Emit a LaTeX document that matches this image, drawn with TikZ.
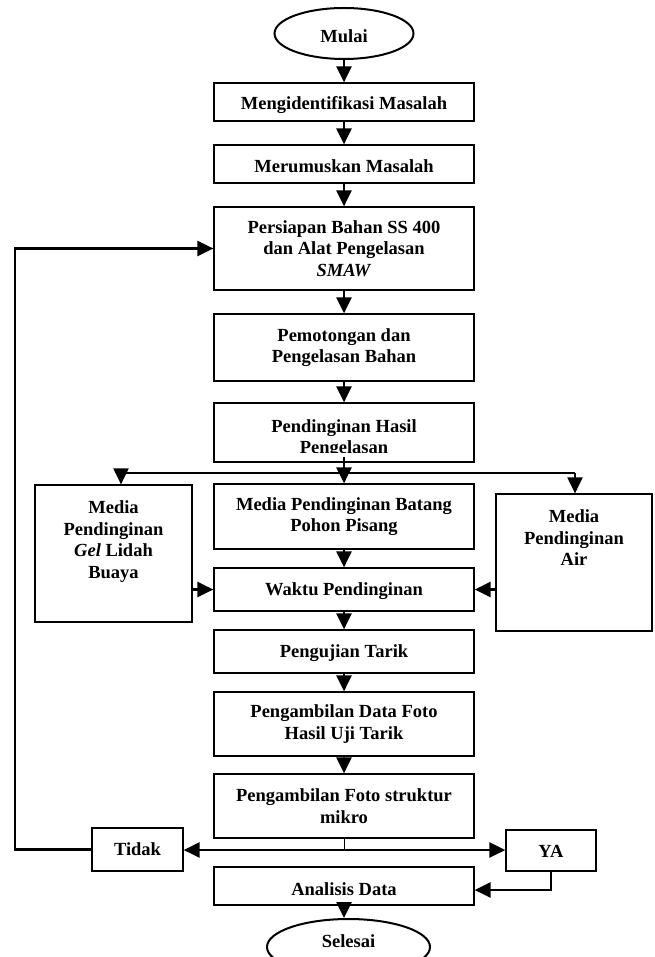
\documentclass[tikz,border=0pt]{standalone}
\usepackage{fontspec}
\setmainfont{Liberation Serif}
\usetikzlibrary{arrows.meta,shapes.geometric}
\begin{document}
\begin{tikzpicture}[x=1pt,y=-1pt,
  every node/.style={font=\fontsize{18.5pt}{21.5pt}\selectfont\bfseries, inner sep=0pt},
  box/.style={draw, line width=1.2pt, align=center, minimum width=260pt},
  term/.style={draw, ellipse, line width=2pt},
  conn/.style={line width=2.6pt},
  arr/.style={conn, -{Triangle[length=16pt,width=15pt]}},
  txt/.style={align=center, anchor=north},
]
\useasboundingbox (0,0) rectangle (654,957);
\clip (0,0) rectangle (654,957);

% central column
\node[term, minimum width=139pt, minimum height=51pt, text height=19pt, text depth=1pt] (mulai) at (344,33.5) {Mulai};
\node[box, minimum height=38pt, text height=18pt, text depth=2pt] (mengid) at (344,102) {Mengidentifikasi Masalah};
\node[box, minimum height=38pt, text height=19pt, text depth=1pt] (merum) at (344,164) {Merumuskan Masalah};
\node[box, minimum height=83pt] (persiapan) at (344,248.5) {Persiapan Bahan SS 400\\dan Alat Pengelasan\\\textit{SMAW}};
\node[box, minimum height=67pt] (pemot) at (344,347.5) {Pemotongan dan\\Pengelasan Bahan};
\node[box, minimum height=59pt] (pend) at (344,432.5) {};
\begin{scope}
  \clip (214,404) rectangle (474,452.5);
  \node[txt] (pendT) at (344,419.4) {Pendinginan Hasil\\Pengelasan};
\end{scope}
\node[box, minimum height=65pt] (batang) at (344,516.5) {Media Pendinginan Batang\\Pohon Pisang};
\node[box, minimum height=43pt, text height=15.5pt, text depth=4.5pt] (waktu) at (344,589.5) {Waktu Pendinginan};
\node[box, minimum height=43pt, text height=15.5pt, text depth=4.5pt] (uji) at (344,651.5) {Pengujian Tarik};
\node[box, minimum height=64pt] (datafoto) at (344,724) {Pengambilan Data Foto\\Hasil Uji Tarik};
\node[box, minimum height=64pt] (foto) at (344,806) {Pengambilan Foto struktur\\mikro};
\node[box, minimum height=38pt, text height=19pt, text depth=1pt] (anal) at (344,886) {Analisis Data};
\node[term, minimum width=163pt, minimum height=56pt, text height=10pt, text depth=10pt] (selesai) at (348.5,947) {Selesai};

% side boxes
\node[box, minimum width=157pt, minimum height=137pt] (gel) at (113.5,553.5) {};
\node[txt] (gelT) at (113.5,500.5) {Media\\Pendinginan\\\textit{Gel} Lidah\\Buaya};
\node[box, minimum width=156pt, minimum height=137pt] (air) at (574,562.5) {};
\node[txt] (airT) at (574,509.5) {Media\\Pendinginan\\Air};
\node[box, minimum width=91pt, minimum height=43pt, text height=15.5pt, text depth=4.5pt] (tidak) at (137.5,849.5) {Tidak};
\node[box, minimum width=90pt, minimum height=41pt, text height=16.5pt, text depth=3.5pt] (ya) at (551,850.5) {YA};

% connectors
\draw[arr] (mulai.south) -- (mengid.north);
\draw[arr] (mengid.south) -- (merum.north);
\draw[arr] (merum.south) -- (persiapan.north);
\draw[arr] (persiapan.south) -- (pemot.north);
\draw[arr] (pemot.south) -- (pend.north);
\draw[arr] ([yshift=6pt]pend.south) -- (batang.north);
\coordinate (brL) at (121,473);
\coordinate (brR) at (575,473);
\draw[line width=2pt] (brL) -- (brR);
\draw[arr, line width=2pt] (brL) -- (brL |- gel.north);
\draw[arr, line width=2pt] (brR) -- (brR |- air.north);
\draw[arr] (batang.south) -- (waktu.north);
\draw[arr] (gel.east |- waktu.west) -- (waktu.west);
\draw[arr] (air.west |- waktu.east) -- (waktu.east);
\draw[arr] (waktu.south) -- (uji.north);
\draw[arr] (uji.south) -- (datafoto.north);
\draw[arr] (datafoto.south) -- (foto.north);
\coordinate (split) at (344,850);
\draw[line width=0.8pt] (foto.south) -- (split);
\draw[arr] (split) -- (tidak.east |- split);
\draw[arr] (split) -- (ya.west |- split);
\coordinate (fb) at (15,849.5);
\draw[arr] (tidak.west) -- (fb) |- (persiapan.west);
\coordinate (yaT) at (551,890);
\draw[arr] (ya.south) -- (yaT) -- (yaT -| anal.east);
\draw[arr] (anal.south) -- (anal.south |- selesai.north);
\end{tikzpicture}
\end{document}
